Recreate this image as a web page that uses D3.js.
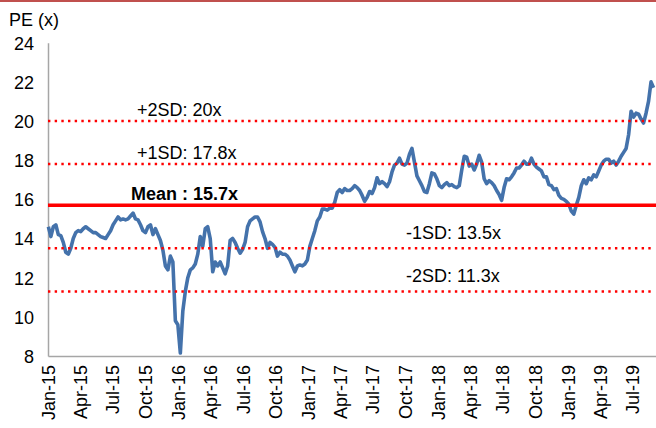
<!DOCTYPE html>
<html>
<head>
<meta charset="utf-8">
<script src="https://cdn.jsdelivr.net/npm/d3@7"></script>
<style>
  body { margin: 0; background: #fff; }
  svg { display: block; font-family: 'Liberation Sans', Arial, sans-serif; }
  .axis path { stroke: #a6a6a6; }
  .axis text { fill: #000; font-size: 18px; }
</style>
</head>
<body>
<svg width="656" height="428"></svg>
<script>
// weekly PE readings, first one on 2 Jan 2015, one every 7 days
const seriesStart = new Date(2015, 0, 2);
const pe2015 = [14.6,14.1,14.6,14.7,14.2,14.15,13.8,13.3,13.2,13.5,
  14.0,14.3,14.4,14.35,14.5,14.6,14.5,14.4,14.3,14.3,
  14.2,14.1,14.05,14.0,14.2,14.4,14.7,14.9,15.1,14.95,
  15.0,14.95,15.0,15.15,15.3,15.0,14.95,14.7,14.4,14.3,
  14.6,14.7,14.2,14.5,14.2,13.9,13.4,12.6,12.4,13.1,
  12.8,9.8];
const pe2016 = [9.6,8.15,10.3,11.3,12.0,12.4,12.5,12.7,13.2,14.1,
  13.6,14.5,14.6,14.0,12.3,12.8,12.6,12.8,12.5,12.2,
  12.6,13.9,14.0,13.8,13.5,13.25,13.45,13.8,14.6,14.9,
  15.0,15.1,15.1,14.85,14.35,14.0,13.5,13.8,13.7,13.55,
  13.1,13.3,13.2,13.2,13.1,12.9,12.6,12.3,12.6,12.65,
  12.6,12.7];
const pe2017 = [12.9,13.6,14.0,14.4,14.9,15.1,15.5,15.5,15.45,15.55,
  15.55,15.85,16.35,16.5,16.35,16.55,16.45,16.45,16.55,16.7,
  16.6,16.45,16.2,15.9,16.1,16.4,16.3,16.6,17.1,16.8,
  16.9,16.8,16.65,16.9,17.4,17.75,17.85,18.1,17.8,17.75,
  17.85,18.3,18.6,17.9,17.2,16.95,16.7,16.4,16.35,16.8,
  17.35,17.3];
const pe2018 = [17.05,16.7,16.6,16.75,16.85,16.7,16.75,16.65,16.6,16.7,
  17.5,18.2,18.15,17.7,17.8,17.5,17.8,18.25,17.9,17.05,
  16.8,16.95,16.85,16.7,16.45,16.25,15.95,16.6,17.05,17.0,
  17.15,17.35,17.6,17.6,17.75,17.95,17.8,17.8,18.1,17.8,
  17.65,17.55,17.45,17.15,17.15,16.75,16.7,16.5,16.55,16.2,
  16.05,16.0];
const pe2019 = [15.9,15.75,15.4,15.25,15.7,16.1,16.7,17.0,16.8,17.1,
  17.0,17.25,17.15,17.45,17.75,17.95,18.05,18.05,17.85,17.95,
  17.75,17.95,18.2,18.4,18.6,19.3,20.5,20.2,20.4,20.35,
  20.1,19.9,20.4,21.0,22.0,21.7];

const bandLevels = [20, 17.8, 15.7, 13.5, 11.3];
const bandLabels = ['+2SD: 20x', '+1SD: 17.8x', 'Mean : 15.7x', '-1SD: 13.5x', '-2SD: 11.3x'];
const yTicks = [8, 10, 12, 14, 16, 18, 20, 22, 24];
const xTicks = d3.timeMonth.every(3).range(new Date(2015, 0, 1), new Date(2019, 7, 1));

const data = [].concat(pe2015, pe2016, pe2017, pe2018, pe2019)
  .map((v, i) => ({ date: d3.timeDay.offset(seriesStart, 7 * i), pe: v }));

const svg = d3.select('svg');
const width = +svg.attr('width');

const x = d3.scaleTime()
  .domain([new Date(2015, 0, 1), new Date(2019, 8, 6)])
  .range([48, width]);
const y = d3.scaleLinear()
  .domain([8, 24])
  .range([356, 42.7]);

// thin red rule across the top
svg.append('line')
  .attr('x1', 0).attr('x2', width)
  .attr('y1', 1).attr('y2', 1)
  .attr('stroke', '#c0504d')
  .attr('stroke-width', 2);

svg.append('text')
  .attr('x', 9).attr('y', 26)
  .attr('font-size', 18)
  .text('PE (x)');

const yAxis = svg.append('g')
  .attr('class', 'axis')
  .attr('transform', 'translate(48,0)')
  .call(d3.axisLeft(y).tickValues(yTicks).tickSize(0).tickPadding(14));
yAxis.select('.domain').attr('stroke-width', 1.5);
yAxis.selectAll('text').attr('dy', '0.36em');

const xAxis = svg.append('g')
  .attr('class', 'axis')
  .attr('transform', 'translate(0,356)')
  .call(d3.axisBottom(x).tickValues(xTicks).tickSize(0).tickFormat(d3.timeFormat('%b-%y')));
xAxis.select('.domain').attr('stroke-width', 1.5);
xAxis.selectAll('text')
  .attr('transform', 'rotate(-90)')
  .attr('text-anchor', 'end')
  .attr('x', -9)
  .attr('y', 0)
  .attr('dy', '0.36em');

const line = d3.line()
  .x(d => x(d.date))
  .y(d => y(d.pe));

svg.append('path')
  .datum(data)
  .attr('fill', 'none')
  .attr('stroke', '#4472ab')
  .attr('stroke-width', 3.6)
  .attr('stroke-linejoin', 'round')
  .attr('d', line);

// mean and +/- SD bands
bandLevels.forEach((lv, i) => {
  const isMean = i === 2;
  svg.append('line')
    .attr('x1', 48)
    .attr('x2', isMean ? width : 652)
    .attr('y1', y(lv)).attr('y2', y(lv))
    .attr('stroke', '#ff0000')
    .attr('stroke-width', isMean ? 3.5 : 2.5)
    .attr('stroke-dasharray', isMean ? null : '2.4 4.27');

  svg.append('text')
    .attr('x', i < 3 ? (isMean ? 131 : 137) : 406)
    .attr('y', y(lv) - (i < 3 ? 5 : 9))
    .attr('font-size', 18)
    .attr('font-weight', isMean ? 'bold' : 'normal')
    .text(bandLabels[i]);
});
</script>
</body>
</html>
